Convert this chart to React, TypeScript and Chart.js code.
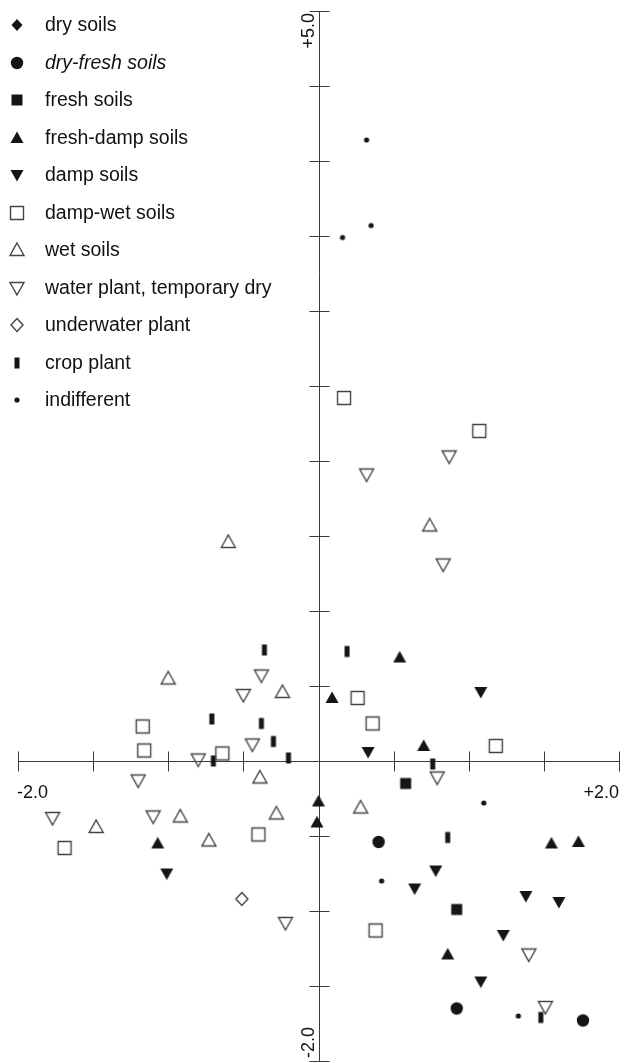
import React, { useEffect, useRef } from "react";
import { Chart, registerables } from "chart.js";

Chart.register(...registerables);

type Pt = { x: number; y: number };

// ---- data ----
const seriesNames = [
  "dry soils",
  "dry-fresh soils",
  "fresh soils",
  "fresh-damp soils",
  "damp soils",
  "damp-wet soils",
  "wet soils",
  "water plant, temporary dry",
  "underwater plant",
  "crop plant",
  "indifferent",
];

const drySoils: Pt[] = [];
const dryFreshSoils: Pt[] = [
  { x: 0.4, y: -0.54 },
  { x: 0.92, y: -1.65 },
  { x: 1.76, y: -1.73 },
];
const freshSoils: Pt[] = [
  { x: 0.58, y: -0.15 },
  { x: 0.92, y: -0.99 },
];
const freshDampSoils: Pt[] = [
  { x: 0.54, y: 0.69 },
  { x: 0.09, y: 0.42 },
  { x: 0.7, y: 0.1 },
  { x: 0.0, y: -0.27 },
  { x: -0.01, y: -0.41 },
  { x: -1.07, y: -0.55 },
  { x: 1.55, y: -0.55 },
  { x: 1.73, y: -0.54 },
  { x: 0.86, y: -1.29 },
];
const dampSoils: Pt[] = [
  { x: 1.08, y: 0.46 },
  { x: 0.33, y: 0.06 },
  { x: -1.01, y: -0.75 },
  { x: 0.64, y: -0.85 },
  { x: 0.78, y: -0.73 },
  { x: 1.38, y: -0.9 },
  { x: 1.6, y: -0.94 },
  { x: 1.23, y: -1.16 },
  { x: 1.08, y: -1.47 },
];
const dampWetSoils: Pt[] = [
  { x: 0.17, y: 2.42 },
  { x: 1.07, y: 2.2 },
  { x: 0.26, y: 0.42 },
  { x: 0.36, y: 0.25 },
  { x: 1.18, y: 0.1 },
  { x: -1.17, y: 0.23 },
  { x: -1.16, y: 0.07 },
  { x: -0.64, y: 0.05 },
  { x: -1.69, y: -0.58 },
  { x: -0.4, y: -0.49 },
  { x: 0.38, y: -1.13 },
];
const wetSoils: Pt[] = [
  { x: -0.6, y: 1.46 },
  { x: 0.74, y: 1.57 },
  { x: -1.0, y: 0.55 },
  { x: -0.24, y: 0.46 },
  { x: -0.39, y: -0.11 },
  { x: 0.28, y: -0.31 },
  { x: -1.48, y: -0.44 },
  { x: -0.92, y: -0.37 },
  { x: -0.73, y: -0.53 },
  { x: -0.28, y: -0.35 },
];
const waterPlant: Pt[] = [
  { x: 0.32, y: 1.91 },
  { x: 0.87, y: 2.03 },
  { x: 0.83, y: 1.31 },
  { x: -0.38, y: 0.57 },
  { x: -0.5, y: 0.44 },
  { x: -0.44, y: 0.11 },
  { x: -0.8, y: 0.01 },
  { x: -1.2, y: -0.13 },
  { x: -1.77, y: -0.38 },
  { x: -1.1, y: -0.37 },
  { x: -0.22, y: -1.08 },
  { x: 0.79, y: -0.11 },
  { x: 1.4, y: -1.29 },
  { x: 1.51, y: -1.64 },
];
const underwaterPlant: Pt[] = [{ x: -0.51, y: -0.92 }];
const cropPlant: Pt[] = [
  { x: -0.36, y: 0.74 },
  { x: 0.19, y: 0.73 },
  { x: -0.71, y: 0.28 },
  { x: -0.38, y: 0.25 },
  { x: -0.3, y: 0.13 },
  { x: -0.7, y: 0.0 },
  { x: -0.2, y: 0.02 },
  { x: 0.76, y: -0.02 },
  { x: 0.86, y: -0.51 },
  { x: 1.48, y: -1.71 },
];
const indifferent: Pt[] = [
  { x: 0.32, y: 4.14 },
  { x: 0.16, y: 3.49 },
  { x: 0.35, y: 3.57 },
  { x: 1.1, y: -0.28 },
  { x: 0.42, y: -0.8 },
  { x: 1.33, y: -1.7 },
];

const xTickValues = [-2, -1.5, -1, -0.5, 0, 0.5, 1, 1.5, 2];
const yTickValues = [-2, -1.5, -1, -0.5, 0, 0.5, 1, 1.5, 2, 2.5, 3, 3.5, 4, 4.5, 5];
const xEndLabels = ["-2.0", "+2.0"];
const yEndLabels = ["+5.0", "-2.0"];

// ---- marker images ----
type Kind =
  | "diamondFilled"
  | "circleFilled"
  | "squareFilled"
  | "triUpFilled"
  | "triDownFilled"
  | "squareOpen"
  | "triUpOpen"
  | "triDownOpen"
  | "diamondOpen"
  | "crop"
  | "dot";

const kinds: Kind[] = [
  "diamondFilled",
  "circleFilled",
  "squareFilled",
  "triUpFilled",
  "triDownFilled",
  "squareOpen",
  "triUpOpen",
  "triDownOpen",
  "diamondOpen",
  "crop",
  "dot",
];

function makeMarker(kind: Kind): HTMLCanvasElement {
  const S = 20;
  const c = document.createElement("canvas");
  c.width = S;
  c.height = S;
  const g = c.getContext("2d")!;
  const m = S / 2;
  const fill = "#151515";
  const stroke = "#444";
  g.fillStyle = fill;
  g.strokeStyle = stroke;
  g.lineWidth = 1.4;
  g.beginPath();
  switch (kind) {
    case "diamondFilled":
      g.moveTo(m, m - 6);
      g.lineTo(m + 5.5, m);
      g.lineTo(m, m + 6);
      g.lineTo(m - 5.5, m);
      g.closePath();
      g.fill();
      break;
    case "circleFilled":
      g.arc(m, m, 6.2, 0, Math.PI * 2);
      g.fill();
      break;
    case "squareFilled":
      g.rect(m - 5.5, m - 5.5, 11, 11);
      g.fill();
      break;
    case "triUpFilled":
      g.moveTo(m, m - 6.5);
      g.lineTo(m + 6.5, m + 5);
      g.lineTo(m - 6.5, m + 5);
      g.closePath();
      g.fill();
      break;
    case "triDownFilled":
      g.moveTo(m, m + 6.5);
      g.lineTo(m + 6.5, m - 5);
      g.lineTo(m - 6.5, m - 5);
      g.closePath();
      g.fill();
      break;
    case "squareOpen":
      g.rect(m - 6.5, m - 6.5, 13, 13);
      g.stroke();
      break;
    case "triUpOpen":
      g.moveTo(m, m - 7);
      g.lineTo(m + 7, m + 5.5);
      g.lineTo(m - 7, m + 5.5);
      g.closePath();
      g.stroke();
      break;
    case "triDownOpen":
      g.moveTo(m, m + 7);
      g.lineTo(m + 7, m - 5.5);
      g.lineTo(m - 7, m - 5.5);
      g.closePath();
      g.stroke();
      break;
    case "diamondOpen":
      g.moveTo(m, m - 6.5);
      g.lineTo(m + 6, m);
      g.lineTo(m, m + 6.5);
      g.lineTo(m - 6, m);
      g.closePath();
      g.stroke();
      break;
    case "crop":
      g.rect(m - 2.5, m - 5.5, 5, 11);
      g.fill();
      break;
    case "dot":
      g.arc(m, m, 2.6, 0, Math.PI * 2);
      g.fill();
      break;
  }
  return c;
}

const FONT = "'Liberation Sans', Arial, Helvetica, sans-serif";

export default function App() {
  const ref = useRef<HTMLCanvasElement | null>(null);

  useEffect(() => {
    if (!ref.current) return;
    const images = kinds.map((k) => makeMarker(k));
    const allData = [
      drySoils,
      dryFreshSoils,
      freshSoils,
      freshDampSoils,
      dampSoils,
      dampWetSoils,
      wetSoils,
      waterPlant,
      underwaterPlant,
      cropPlant,
      indifferent,
    ];

    const axesPlugin = {
      id: "crossAxes",
      beforeDatasetsDraw(chart: any) {
        const ctx = chart.ctx as CanvasRenderingContext2D;
        const xs = chart.scales.x;
        const ys = chart.scales.y;
        const x0 = Math.round(xs.getPixelForValue(0)) + 0.5;
        const y0 = Math.round(ys.getPixelForValue(0)) + 0.5;
        const xl = xs.getPixelForValue(xTickValues[0]);
        const xr = xs.getPixelForValue(xTickValues[xTickValues.length - 1]);
        const yb = ys.getPixelForValue(yTickValues[0]);
        const yt = ys.getPixelForValue(yTickValues[yTickValues.length - 1]);
        ctx.save();
        ctx.strokeStyle = "#3a3a3a";
        ctx.lineWidth = 1;
        ctx.beginPath();
        ctx.moveTo(xl, y0);
        ctx.lineTo(xr, y0);
        ctx.moveTo(x0, yt);
        ctx.lineTo(x0, yb);
        xTickValues.forEach((v) => {
          if (v === 0) return;
          const p = Math.round(xs.getPixelForValue(v)) + 0.5;
          ctx.moveTo(p, y0 - 10);
          ctx.lineTo(p, y0 + 10);
        });
        yTickValues.forEach((v) => {
          if (v === 0) return;
          const p = Math.round(ys.getPixelForValue(v)) + 0.5;
          ctx.moveTo(x0 - 10, p);
          ctx.lineTo(x0 + 10, p);
        });
        ctx.stroke();

        ctx.fillStyle = "#111";
        ctx.font = `18px ${FONT}`;
        ctx.textBaseline = "middle";
        ctx.textAlign = "left";
        ctx.fillText(xEndLabels[0], xl - 1, y0 + 32);
        ctx.textAlign = "right";
        ctx.fillText(xEndLabels[1], xr, y0 + 32);

        // rotated y labels
        ctx.save();
        ctx.translate(x0 - 10, yt + 2);
        ctx.rotate(-Math.PI / 2);
        ctx.textAlign = "right";
        ctx.fillText(yEndLabels[0], 0, 0);
        ctx.restore();
        ctx.save();
        ctx.translate(x0 - 10, yb - 3);
        ctx.rotate(-Math.PI / 2);
        ctx.textAlign = "left";
        ctx.fillText(yEndLabels[1], 0, 0);
        ctx.restore();
        ctx.restore();
      },
      afterDatasetsDraw(chart: any) {
        const ctx = chart.ctx as CanvasRenderingContext2D;
        ctx.save();
        ctx.fillStyle = "#111";
        ctx.textBaseline = "middle";
        ctx.textAlign = "left";
        seriesNames.forEach((name, i) => {
          const cy = 25 + i * 37.5;
          const img = images[i];
          ctx.drawImage(img, Math.round(17 - img.width / 2), Math.round(cy - img.height / 2));
          ctx.font = `${i === 1 ? "italic " : ""}19.5px ${FONT}`;
          ctx.fillText(name, 45, cy + 1);
        });
        ctx.restore();
      },
    };

    const chart = new Chart(ref.current, {
      type: "scatter",
      data: {
        datasets: allData.map((d, i) => ({
          label: seriesNames[i],
          data: d,
          pointStyle: images[i] as any,
          pointRadius: 7,
          pointHoverRadius: 7,
        })),
      },
      options: {
        animation: false,
        responsive: false,
        devicePixelRatio: 1,
        events: [],
        layout: { autoPadding: false, padding: { left: 18, right: 8, top: 11, bottom: 2 } },
        plugins: {
          legend: { display: false },
          tooltip: { enabled: false },
          title: { display: false },
        },
        scales: {
          x: { type: "linear", min: -2, max: 2, display: false },
          y: { type: "linear", min: -2, max: 5, display: false },
        },
      },
      plugins: [axesPlugin],
    });
    return () => chart.destroy();
  }, []);

  return (
    <div style={{ position: "fixed", left: 0, top: 0, width: 627, height: 1063, background: "#fff" }}>
      <canvas ref={ref} width={627} height={1063} style={{ display: "block" }} />
    </div>
  );
}
